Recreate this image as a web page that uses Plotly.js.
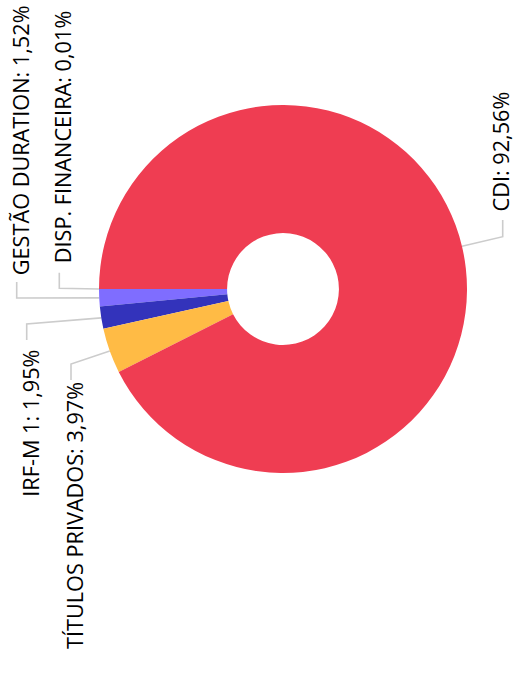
<!DOCTYPE html>
<html>
<head>
<meta charset="utf-8">
<script src="https://cdn.plot.ly/plotly-3.0.1.min.js"></script>
<style>
  html, body { margin: 0; padding: 0; background: #fff; }
  #chart { width: 515px; height: 675px; }
</style>
</head>
<body>
<div id="chart"></div>
<script>
// ---- data ----
var categories = ["DISP. FINANCEIRA", "GESTÃO DURATION", "IRF-M 1", "TÍTULOS PRIVADOS", "CDI"];
var values = [0.01, 1.52, 1.95, 3.97, 92.56];
var valueLabels = ["0,01%", "1,52%", "1,95%", "3,97%", "92,56%"];
var colors = ["#ef3d52", "#7f6dff", "#3333bb", "#ffbb45", "#ef3d52"];

// ---- layout geometry (pixels) ----
var W = 515, H = 675;
var CX = 283, CY = 289, R = 184;
var ROT = 270; // first slice starts at 9 o'clock
// label placement: connector x, connector start y, bend y, text edge, text side
var labelX = [59.3, 16.7, 26.7, 71, 502.7];
var labelY1 = [272.7, 282, 340, 380, 220];
var labelY2 = [288.3, 298, 324, 364, 236.7];
var textEdge = [264, 276, 349, 381, 213];
var textShift = [3.5, 3.5, 3.5, 3.5, -3.2];
var textAnchor = ["bottom", "bottom", "top", "top", "bottom"];

function px(x) { return x / W; }
function py(y) { return 1 - y / H; }

var total = values.reduce(function (a, b) { return a + b; }, 0);
var shapes = [], annotations = [];
var cum = 0;
for (var i = 0; i < values.length; i++) {
  var mid = cum + values[i] / 2;
  cum += values[i];
  // counterclockwise from ROT
  var ang = (ROT - mid / total * 360) * Math.PI / 180;
  var ex = CX + R * Math.sin(ang);
  var ey = CY - R * Math.cos(ang);
  shapes.push({
    type: "path", xref: "paper", yref: "paper",
    path: "M" + px(labelX[i]) + "," + py(labelY1[i]) +
          " L" + px(labelX[i]) + "," + py(labelY2[i]) +
          " L" + px(ex) + "," + py(ey),
    line: { color: "#cccccc", width: 1.6 },
    layer: "below"
  });
  annotations.push({
    text: categories[i] + ": " + valueLabels[i],
    xref: "paper", yref: "paper",
    x: px(labelX[i] + textShift[i]), y: py(textEdge[i]),
    xanchor: "center", yanchor: textAnchor[i],
    textangle: -90, showarrow: false,
    font: { family: "Open Sans", size: 21.7, color: "#000000" },
    borderpad: 0
  });
}

var trace = {
  type: "pie",
  labels: categories,
  values: values,
  sort: false,
  direction: "counterclockwise",
  rotation: ROT,
  hole: 0.304,
  textinfo: "none",
  hoverinfo: "skip",
  marker: { colors: colors, line: { width: 0 } },
  domain: { x: [px(CX - R), px(CX + R)], y: [py(CY + R), py(CY - R)] },
  showlegend: false
};

var layout = {
  width: W, height: H,
  margin: { l: 0, r: 0, t: 0, b: 0 },
  paper_bgcolor: "#ffffff",
  plot_bgcolor: "#ffffff",
  showlegend: false,
  shapes: shapes,
  annotations: annotations
};

Plotly.newPlot("chart", [trace], layout, { displayModeBar: false, staticPlot: true });
</script>
</body>
</html>
